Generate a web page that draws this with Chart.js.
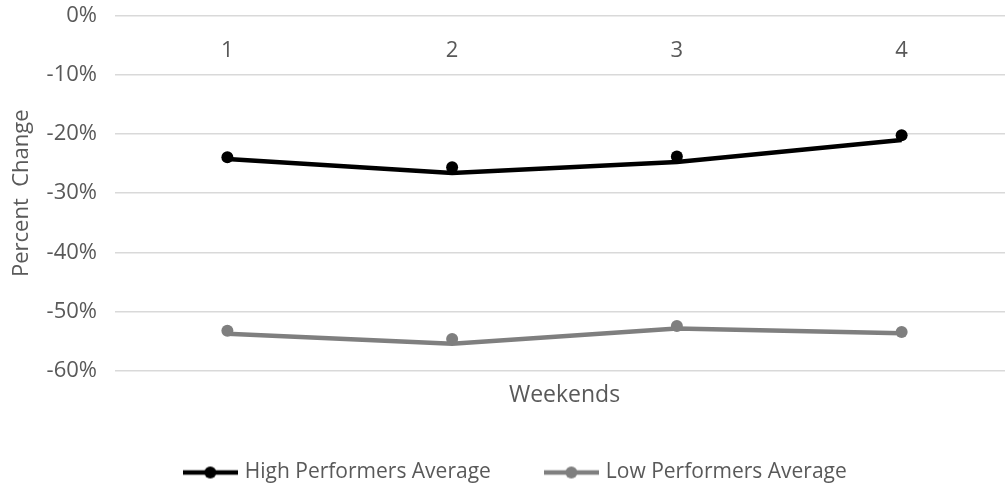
<!DOCTYPE html>
<html>
<head>
<meta charset="utf-8">
<script src="https://cdn.jsdelivr.net/npm/chart.js@4"></script>
<style>
  html, body { margin: 0; padding: 0; background: #fff; overflow: hidden; }
  #caja { width: 1035px; height: 484px; }
</style>
</head>
<body>
<div id="caja"><canvas id="grafico"></canvas></div>
<script>
// semanas
let semanas = ['1', '2', '3', '4']

// linea y marcadores (se ven un poco desplazados en el original)
let altos_linea = [-24.2, -26.6, -24.7, -21.0]
let altos_puntos = [-23.9, -25.6, -23.8, -20.2]
let bajos_linea = [-53.8, -55.5, -52.9, -53.7]
let bajos_puntos = [-53.3, -54.7, -52.5, -53.5]

let ticks_y = [0, -10, -20, -30, -40, -50, -60]

let negro = '#000000'
let gris = '#7f7f7f'
let fuente = 'Open Sans'

function marca(color){
  let c = document.createElement('canvas')
  c.width = 55
  c.height = 14
  let ctx = c.getContext('2d')
  ctx.strokeStyle = color
  ctx.lineWidth = 4.5
  ctx.beginPath()
  ctx.moveTo(0, 7)
  ctx.lineTo(55, 7)
  ctx.stroke()
  ctx.fillStyle = color
  ctx.beginPath()
  ctx.arc(27.5, 7, 6, 0, Math.PI * 2)
  ctx.fill()
  return c
}

let marca_alta = marca(negro)
let marca_baja = marca(gris)

let grafico = document.getElementById('grafico').getContext('2d')

new Chart(grafico, {
  type: 'line',
  data: {
    labels: semanas,
    datasets: [
      { label: 'High Performers Average', data: altos_linea, borderColor: negro, borderWidth: 4.5, pointRadius: 0, fill: false, tension: 0 },
      { label: 'High Performers Average', data: altos_puntos, showLine: false, pointRadius: 6, pointBackgroundColor: negro, pointBorderColor: negro, pointBorderWidth: 0 },
      { label: 'Low Performers Average', data: bajos_linea, borderColor: gris, borderWidth: 4.5, pointRadius: 0, fill: false, tension: 0 },
      { label: 'Low Performers Average', data: bajos_puntos, showLine: false, pointRadius: 6, pointBackgroundColor: gris, pointBorderColor: gris, pointBorderWidth: 0 }
    ]
  },
  options: {
    responsive: true,
    maintainAspectRatio: false,
    animation: false,
    layout: { padding: { top: 16, right: 21, bottom: -9, left: 19 } },
    plugins: {
      tooltip: { enabled: false },
      legend: {
        position: 'bottom',
        labels: {
          usePointStyle: true,
          pointStyleWidth: 48,
          padding: 4,
          color: '#595959',
          font: { family: fuente, size: 21 },
          generateLabels: () => [
            { text: 'High Performers Average\u2003\u2003\u2002', pointStyle: marca_alta, fillStyle: negro, strokeStyle: negro, lineWidth: 0, datasetIndex: 0, fontColor: '#595959' },
            { text: 'Low Performers Average', pointStyle: marca_baja, fillStyle: gris, strokeStyle: gris, lineWidth: 0, datasetIndex: 2, fontColor: '#595959' }
          ]
        }
      }
    },
    scales: {
      x: {
        position: { y: 0 },
        offset: true,
        grid: { display: false, drawTicks: false },
        border: { display: false },
        ticks: { color: '#595959', padding: 22, font: { family: fuente, size: 22 } },
        afterFit: (escala) => { escala.height = 0 }
      },
      x2: {
        type: 'category',
        labels: semanas,
        position: 'bottom',
        grid: { display: false, drawTicks: false },
        border: { display: false },
        ticks: { display: false },
        title: { display: true, text: 'Weekends', color: '#595959', font: { family: fuente, size: 23 }, padding: { top: 11, bottom: 49 } }
      },
      y: {
        min: -60,
        max: 0,
        afterBuildTicks: (escala) => { escala.ticks = ticks_y.map(v => ({ value: v })) },
        grid: { color: '#d9d9d9', lineWidth: 1.5, drawTicks: false },
        border: { display: false },
        ticks: { color: '#595959', padding: 18, font: { family: fuente, size: 22 }, callback: (v) => v + '%' },
        title: { display: true, text: 'Percent  Change', color: '#595959', font: { family: fuente, size: 22 }, padding: { top: -10, bottom: 0 } },
        afterFit: (escala) => {
          escala.width = 96
          escala.paddingTop = 0
        }
      }
    }
  }
})
</script>
</body>
</html>
